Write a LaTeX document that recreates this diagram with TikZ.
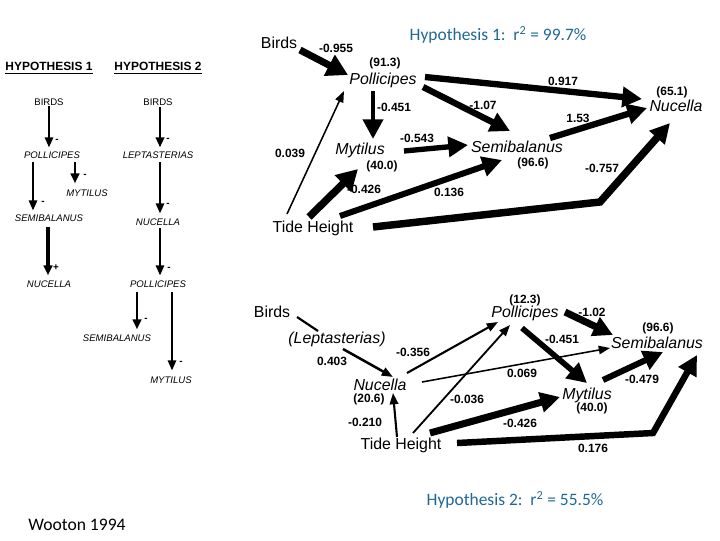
\documentclass[tikz,border=0pt]{standalone}
\usepackage{fontspec}
\setmainfont{Liberation Sans}
\newfontfamily\calfont{Carlito}
\usepackage{tikz}
\usetikzlibrary{arrows.meta}
\definecolor{titleblue}{RGB}{31,104,150}

\tikzset{
  sp/.style={font=\fontsize{11.3}{13}\selectfont\itshape, inner sep=0pt},
  plain/.style={font=\fontsize{11.3}{13}\selectfont, inner sep=0pt},
  num/.style={font=\fontsize{8.5}{10}\selectfont\bfseries, inner sep=0pt},
  hd/.style={font=\fontsize{8.5}{10}\selectfont\bfseries, inner sep=0pt},
  sm/.style={font=\fontsize{6.8}{8}\selectfont\itshape, inner sep=0pt},
  smup/.style={font=\fontsize{6.8}{8}\selectfont, inner sep=0pt},
  sgn/.style={font=\fontsize{7}{8}\selectfont\bfseries, inner sep=0pt},
  ttl/.style={font=\calfont\fontsize{12.4}{14}\selectfont, text=titleblue, inner sep=0pt},
  huge/.style={line width=#1, -{Triangle[length=15pt,width=16pt]}},
  big/.style={line width=#1, -{Triangle[length=14pt,width=14pt]}},
  fine/.style={line width=#1, -{Triangle[length=8pt,width=6pt]}},
  tiny/.style={line width=#1, -{Triangle[length=7pt,width=6pt]}}
}

\begin{document}
\begin{tikzpicture}[x=0.025cm, y=-0.025cm]
\useasboundingbox (0,0) rectangle (720,540);

% left panel: the two hypotheses as chains
\node[hd] (hypL1) at (49,68) {\underline{HYPOTHESIS 1}};
\node[hd] (hypL2) at (158,68) {\underline{HYPOTHESIS 2}};

\node[smup] (birdsL1) at (49,102) {BIRDS};
\node[sm] (pollL1) at (52,155) {POLLICIPES};
\node[sm] (mytL1) at (87,193) {MYTILUS};
\node[sm] (semL1) at (49,218) {SEMIBALANUS};
\node[sm] (nucL1) at (49,284) {NUCELLA};

\node[smup] (birdsL2) at (158,102) {BIRDS};
\node[sm] (leptL2) at (158,155) {LEPTASTERIAS};
\node[sm] (nucL2) at (158,222) {NUCELLA};
\node[sm] (pollL2) at (158,284) {POLLICIPES};
\node[sm] (semL2) at (117,338) {SEMIBALANUS};
\node[sm] (mytL2) at (171,380) {MYTILUS};

\draw[tiny=1pt] (birdsL1.south) -- ([shift={(-3,-4)}]pollL1.north);
\draw[tiny=1pt] ([shift={(-19,3)}]pollL1.south) -- ([shift={(-16,-4)}]semL1.north);
\draw[tiny=2pt] ([shift={(23,3)}]pollL1.south) -- ([shift={(-12,-6)}]mytL1.north);
\draw[tiny=2.2pt] ([shift={(-1,5)}]semL1.south) -- ([shift={(-1,-5)}]nucL1.north);

\draw[tiny=1.4pt] ([shift={(2,1)}]birdsL2.south) -- ([shift={(2,-4)}]leptL2.north);
\draw[tiny=0.8pt] ([shift={(2,3)}]leptL2.south) -- ([shift={(2,-5)}]nucL2.north);
\draw[tiny=0.8pt] ([shift={(2,2)}]nucL2.south) -- ([shift={(2,-5)}]pollL2.north);
\draw[tiny=2pt] ([shift={(-21,4)}]pollL2.south) -- ([shift={(20,-5)}]semL2.north);
\draw[tiny=0.8pt] ([shift={(14,4)}]pollL2.south) -- ([shift={(1,-6)}]mytL2.north);

\node[sgn] (sL1) at (57,141) {-};
\node[sgn] (sL2) at (43,203) {-};
\node[sgn] (sL3) at (85,176) {-};
\node[sgn] (sL4) at (56,268) {+};
\node[sgn] (sR1) at (168,140) {-};
\node[sgn] (sR2) at (168,205) {-};
\node[sgn] (sR3) at (169,269) {-};
\node[sgn] (sR4) at (146,320) {-};
\node[sgn] (sR5) at (181,363) {-};

% hypothesis 1 path diagram
\node[ttl] (titleA) at (498,35) {Hypothesis 1:\ \ r\textsuperscript{2} = 99.7\%};

\node[plain] (birdsA) at (279,43) {Birds};
\node[sp] (pollA) at (383,80) {Pollicipes};
\node[sp] (mytA) at (360,150) {Mytilus};
\node[sp] (semA) at (517,147) {Semibalanus};
\node[sp] (nucA) at (676,106) {Nucella};
\node[plain] (tideA) at (313,228) {Tide Height};
\coordinate (bendA) at (600,202);

\draw[huge=5pt] ([shift={(21,7)}]birdsA.center) -- ([shift={(-35,-5)}]pollA.center);
\draw[big=4.5pt] ([shift={(42,-3)}]pollA.center) -- ([shift={(-34,-7)}]nucA.center);
\draw[big=4.5pt] ([shift={(40,7)}]pollA.center) -- ([shift={(-7,-16)}]semA.center);
\draw[big=3.5pt] ([shift={(-10,11)}]pollA.center) -- ([shift={(13,-11)}]mytA.center);
\draw[big=4.5pt] ([shift={(33,-9)}]semA.center) -- ([shift={(-29,2)}]nucA.center);
\draw[big=3.8pt] ([shift={(44,1)}]mytA.center) -- ([shift={(-49,-2)}]semA.center);
\draw[fine=1.1pt] ([shift={(-26,-14)}]tideA.center) -- ([shift={(-39,11)}]pollA.center);
\draw[huge=5.3pt] ([shift={(-4,-11)}]tideA.center) -- ([shift={(-2,19)}]mytA.center);
\draw[big=4.3pt] ([shift={(27,-12)}]tideA.center) -- ([shift={(-15,13)}]semA.center);
\draw[big=5.3pt] ([shift={(60,-1)}]tideA.center) -- (bendA) -- ([shift={(-6,17)}]nucA.center);

\node[num] (wA1) at (336,48) {-0.955};
\node[num] (rA1) at (385,63) {(91.3)};
\node[num] (wA2) at (563,81) {0.917};
\node[num] (rA2) at (672,92) {(65.1)};
\node[num] (wA3) at (394,107) {-0.451};
\node[num] (wA4) at (483,105) {-1.07};
\node[num] (wA5) at (578,118) {1.53};
\node[num] (wA6) at (417,138) {-0.543};
\node[num] (rA3) at (382,166) {(40.0)};
\node[num] (rA4) at (533,163) {(96.6)};
\node[num] (wA7) at (290,153) {0.039};
\node[num] (wA8) at (602,168) {-0.757};
\node[num] (wA9) at (364,189) {-0.426};
\node[num] (wA10) at (449,192) {0.136};

% hypothesis 2 path diagram
\node[ttl] (titleB) at (515,500) {Hypothesis 2:\ \ r\textsuperscript{2} = 55.5\%};

\node[plain] (birdsB) at (272,312) {Birds};
\node[sp] (leptB) at (337,339) {(Leptasterias)};
\node[sp] (nucB) at (380,385) {Nucella};
\node[plain] (tideB) at (401,445) {Tide Height};
\node[sp] (pollB) at (525,313) {Pollicipes};
\node[sp] (semB) at (657,343) {Semibalanus};
\node[sp] (mytB) at (587,395) {Mytilus};
\coordinate (bendB) at (653,433);

\draw[line width=1.5pt] ([shift={(25,5)}]birdsB.center) -- ([shift={(-19,-8)}]leptB.center);
\draw[fine=1.8pt] ([shift={(6,10)}]leptB.center) -- ([shift={(13,-8)}]nucB.center);
\draw[fine=1.5pt] ([shift={(-4,-8)}]tideB.center) -- ([shift={(13,8)}]nucB.center);
\draw[fine=1.5pt] ([shift={(27,-12)}]nucB.center) -- ([shift={(-27,9)}]pollB.center);
\draw[fine=1.3pt] ([shift={(12,-12)}]tideB.center) -- ([shift={(-15,12)}]pollB.center);
\draw[fine=1.1pt] ([shift={(42,-3)}]nucB.center) -- ([shift={(-47,5)}]semB.center);
\draw[big=5pt] ([shift={(40,-1)}]pollB.center) -- ([shift={(-44,-8)}]semB.center);
\draw[big=4pt] ([shift={(-3,15)}]pollB.center) -- ([shift={(0,-12)}]mytB.center);
\draw[big=4.3pt] ([shift={(16,-15)}]mytB.center) -- ([shift={(6,9)}]semB.center);
\draw[big=5pt] ([shift={(29,-12)}]tideB.center) -- ([shift={(-27,2)}]mytB.center);
\draw[big=4.6pt] ([shift={(56,-2)}]tideB.center) -- (bendB) -- ([shift={(40,12)}]semB.center);

\node[num] (rB1) at (525,300) {(12.3)};
\node[num] (wB1) at (592,312) {-1.02};
\node[num] (wB2) at (562,339) {-0.451};
\node[num] (rB2) at (658,328) {(96.6)};
\node[num] (wB3) at (522,373) {0.069};
\node[num] (wB4) at (642,379) {-0.479};
\node[num] (rB3) at (592,408) {(40.0)};
\node[num] (wB5) at (520,423) {-0.426};
\node[num] (wB6) at (593,448) {0.176};
\node[num] (wB7) at (332,361) {0.403};
\node[num] (wB8) at (413,352) {-0.356};
\node[num] (rB4) at (369,399) {(20.6)};
\node[num] (wB9) at (365,422) {-0.210};
\node[num] (wB10) at (467,399) {-0.036};

\node[font=\calfont\fontsize{12.5}{14}\selectfont, inner sep=0pt] (cite) at (77,525) {Wooton 1994};
\end{tikzpicture}
\end{document}
